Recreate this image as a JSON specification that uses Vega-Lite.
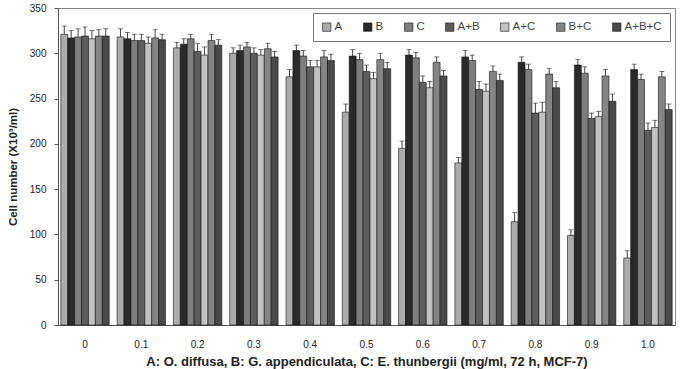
{
  "$schema": "https://vega.github.io/schema/vega-lite/v6.json",
  "width": 617,
  "height": 317,
  "autosize": {"type": "none"},
  "padding": {"left": 58, "top": 8, "right": 10, "bottom": 44},
  "background": "white",
  "config": {
    "font": "Liberation Sans",
    "view": {"stroke": "#888", "strokeWidth": 1},
    "axis": {"labelFont": "Liberation Sans", "titleFont": "Liberation Sans", "labelColor": "#222", "titleColor": "#222", "domainColor": "#555", "tickColor": "#555", "grid": false}
  },
  "data": {
    "values": [
      {"dose": "0", "group": "A", "value": 321, "err": 9},
      {"dose": "0", "group": "B", "value": 317, "err": 8},
      {"dose": "0", "group": "C", "value": 318, "err": 9},
      {"dose": "0", "group": "A+B", "value": 319, "err": 10},
      {"dose": "0", "group": "A+C", "value": 316, "err": 9},
      {"dose": "0", "group": "B+C", "value": 319, "err": 7},
      {"dose": "0", "group": "A+B+C", "value": 319, "err": 8},
      {"dose": "0.1", "group": "A", "value": 318, "err": 9},
      {"dose": "0.1", "group": "B", "value": 316, "err": 7},
      {"dose": "0.1", "group": "C", "value": 314, "err": 7},
      {"dose": "0.1", "group": "A+B", "value": 314, "err": 7},
      {"dose": "0.1", "group": "A+C", "value": 311, "err": 7},
      {"dose": "0.1", "group": "B+C", "value": 317, "err": 9},
      {"dose": "0.1", "group": "A+B+C", "value": 315, "err": 6},
      {"dose": "0.2", "group": "A", "value": 306, "err": 6},
      {"dose": "0.2", "group": "B", "value": 310, "err": 6},
      {"dose": "0.2", "group": "C", "value": 316, "err": 5},
      {"dose": "0.2", "group": "A+B", "value": 302, "err": 9},
      {"dose": "0.2", "group": "A+C", "value": 298, "err": 9},
      {"dose": "0.2", "group": "B+C", "value": 314, "err": 7},
      {"dose": "0.2", "group": "A+B+C", "value": 309, "err": 6},
      {"dose": "0.3", "group": "A", "value": 300, "err": 6},
      {"dose": "0.3", "group": "B", "value": 303, "err": 6},
      {"dose": "0.3", "group": "C", "value": 307, "err": 5},
      {"dose": "0.3", "group": "A+B", "value": 300, "err": 6},
      {"dose": "0.3", "group": "A+C", "value": 298, "err": 6},
      {"dose": "0.3", "group": "B+C", "value": 305, "err": 6},
      {"dose": "0.3", "group": "A+B+C", "value": 296, "err": 6},
      {"dose": "0.4", "group": "A", "value": 274, "err": 8},
      {"dose": "0.4", "group": "B", "value": 303, "err": 6},
      {"dose": "0.4", "group": "C", "value": 297, "err": 6},
      {"dose": "0.4", "group": "A+B", "value": 285, "err": 7},
      {"dose": "0.4", "group": "A+C", "value": 285, "err": 7},
      {"dose": "0.4", "group": "B+C", "value": 296, "err": 7},
      {"dose": "0.4", "group": "A+B+C", "value": 292, "err": 7},
      {"dose": "0.5", "group": "A", "value": 235, "err": 9},
      {"dose": "0.5", "group": "B", "value": 297, "err": 7},
      {"dose": "0.5", "group": "C", "value": 293, "err": 7},
      {"dose": "0.5", "group": "A+B", "value": 280, "err": 7},
      {"dose": "0.5", "group": "A+C", "value": 272, "err": 7},
      {"dose": "0.5", "group": "B+C", "value": 293, "err": 7},
      {"dose": "0.5", "group": "A+B+C", "value": 283, "err": 7},
      {"dose": "0.6", "group": "A", "value": 195, "err": 8},
      {"dose": "0.6", "group": "B", "value": 298, "err": 6},
      {"dose": "0.6", "group": "C", "value": 295, "err": 6},
      {"dose": "0.6", "group": "A+B", "value": 268, "err": 7},
      {"dose": "0.6", "group": "A+C", "value": 262, "err": 7},
      {"dose": "0.6", "group": "B+C", "value": 290, "err": 6},
      {"dose": "0.6", "group": "A+B+C", "value": 275, "err": 6},
      {"dose": "0.7", "group": "A", "value": 179, "err": 6},
      {"dose": "0.7", "group": "B", "value": 296, "err": 7},
      {"dose": "0.7", "group": "C", "value": 292, "err": 6},
      {"dose": "0.7", "group": "A+B", "value": 260, "err": 9},
      {"dose": "0.7", "group": "A+C", "value": 258, "err": 8},
      {"dose": "0.7", "group": "B+C", "value": 280, "err": 6},
      {"dose": "0.7", "group": "A+B+C", "value": 270, "err": 7},
      {"dose": "0.8", "group": "A", "value": 114, "err": 10},
      {"dose": "0.8", "group": "B", "value": 290, "err": 6},
      {"dose": "0.8", "group": "C", "value": 282, "err": 6},
      {"dose": "0.8", "group": "A+B", "value": 234, "err": 11},
      {"dose": "0.8", "group": "A+C", "value": 235, "err": 11},
      {"dose": "0.8", "group": "B+C", "value": 277, "err": 6},
      {"dose": "0.8", "group": "A+B+C", "value": 262, "err": 7},
      {"dose": "0.9", "group": "A", "value": 99, "err": 6},
      {"dose": "0.9", "group": "B", "value": 287, "err": 6},
      {"dose": "0.9", "group": "C", "value": 278, "err": 7},
      {"dose": "0.9", "group": "A+B", "value": 228, "err": 6},
      {"dose": "0.9", "group": "A+C", "value": 230, "err": 6},
      {"dose": "0.9", "group": "B+C", "value": 275, "err": 7},
      {"dose": "0.9", "group": "A+B+C", "value": 247, "err": 8},
      {"dose": "1.0", "group": "A", "value": 74, "err": 8},
      {"dose": "1.0", "group": "B", "value": 282, "err": 6},
      {"dose": "1.0", "group": "C", "value": 271, "err": 6},
      {"dose": "1.0", "group": "A+B", "value": 215, "err": 8},
      {"dose": "1.0", "group": "A+C", "value": 218, "err": 8},
      {"dose": "1.0", "group": "B+C", "value": 274, "err": 6},
      {"dose": "1.0", "group": "A+B+C", "value": 238, "err": 6}
    ]
  },
  "encoding": {
    "x": {
      "field": "dose", "type": "ordinal", "sort": null,
      "scale": {"paddingInner": 0.14, "paddingOuter": 0.05},
      "axis": {"labelAngle": 0, "labelFontSize": 10, "labelPadding": 14, "ticks": false,
        "title": "A: O. diffusa, B: G. appendiculata, C: E. thunbergii (mg/ml, 72 h, MCF-7)",
        "titleFontSize": 13, "titleFontWeight": "bold", "titlePadding": 6}
    },
    "xOffset": {"field": "group", "type": "nominal", "sort": ["A", "B", "C", "A+B", "A+C", "B+C", "A+B+C"]}
  },
  "layer": [
    {
      "mark": {"type": "bar", "stroke": "#111", "strokeWidth": 0.6},
      "encoding": {
        "y": {"field": "value", "type": "quantitative",
          "scale": {"domain": [0, 350]},
          "axis": {"values": [0, 50, 100, 150, 200, 250, 300, 350], "labelFontSize": 10, "tickSize": 4, "labelPadding": 8,
            "title": "Cell number (X10³/ml)", "titleFontSize": 11.5, "titleFontWeight": "bold", "titlePadding": 11}},
        "fill": {"field": "group", "type": "nominal",
          "sort": ["A", "B", "C", "A+B", "A+C", "B+C", "A+B+C"],
          "scale": {"domain": ["A", "B", "C", "A+B", "A+C", "B+C", "A+B+C"],
            "range": ["#ababab", "#2a2a2a", "#7e7e7e", "#5e5e5e", "#c2c2c2", "#858585", "#4a4a4a"]},
          "legend": {"title": null, "orient": "none", "legendX": 255, "legendY": 5, "direction": "horizontal", "columns": 7,
            "symbolType": "square", "symbolSize": 70, "symbolStrokeColor": "#111", "symbolStrokeWidth": 0.6,
            "labelFontSize": 11.5, "labelColor": "#444", "labelOffset": 2, "columnPadding": 19,
            "strokeColor": "#777", "padding": 8, "fillColor": "white"}}
      }
    },
    {
      "mark": {"type": "rule", "color": "#111", "strokeWidth": 0.8},
      "encoding": {
        "y": {"field": "value", "type": "quantitative"},
        "y2": {"field": "top"}
      },
      "transform": [{"calculate": "datum.value + datum.err", "as": "top"}]
    },
    {
      "mark": {"type": "tick", "color": "#111", "thickness": 0.8, "size": 5},
      "transform": [{"calculate": "datum.value + datum.err", "as": "top"}],
      "encoding": {
        "y": {"field": "top", "type": "quantitative"}
      }
    }
  ]
}
